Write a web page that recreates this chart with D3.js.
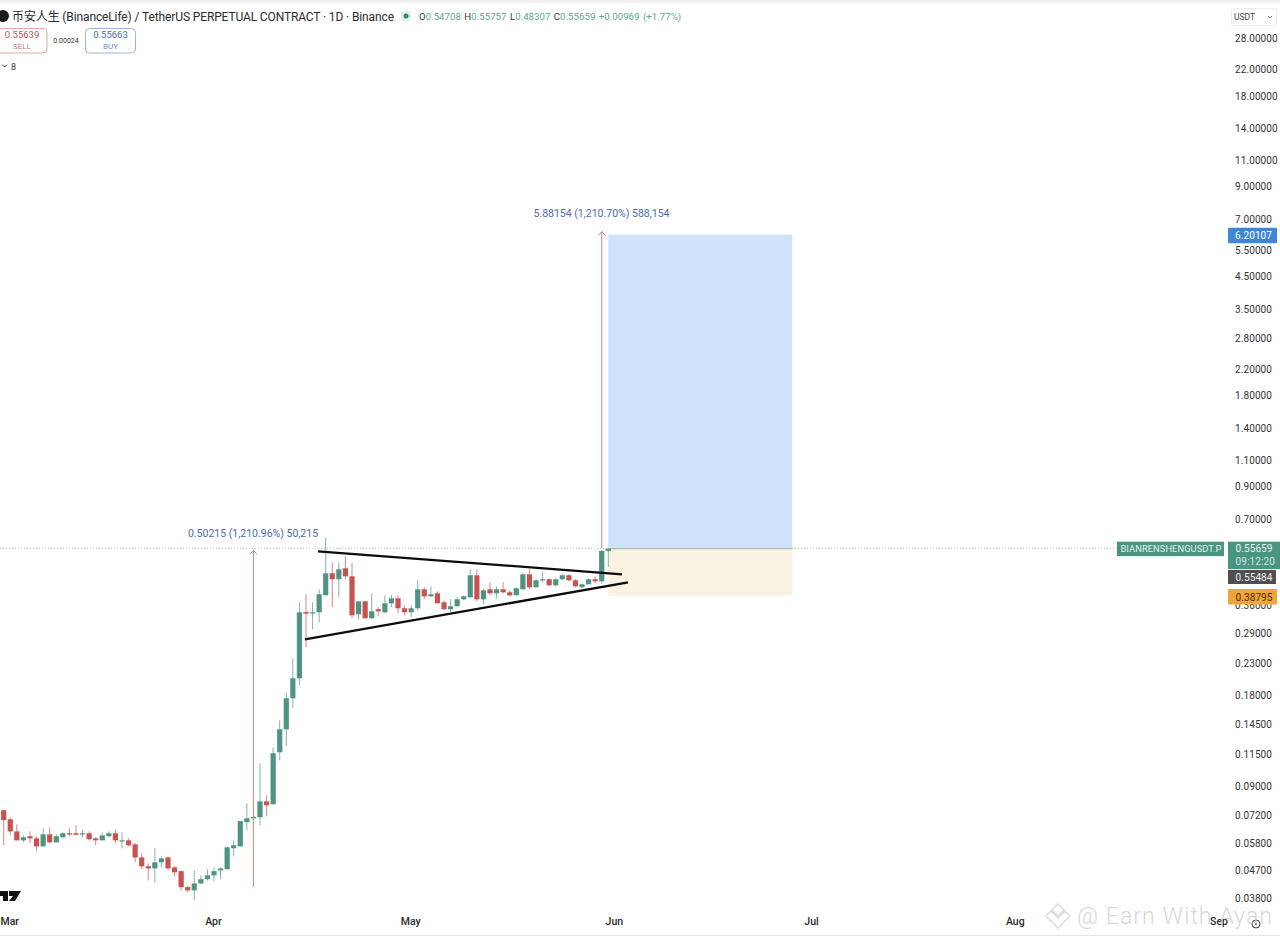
<!DOCTYPE html>
<html>
<head>
<meta charset="utf-8">
<script src="https://cdn.jsdelivr.net/npm/d3@7"></script>
<style>
  html, body { margin: 0; padding: 0; background: #fff; }
  svg { display: block; }
  text { font-family: Roboto, "Noto Sans CJK SC", sans-serif; }
  .axis path, .axis line { display: none; }
</style>
</head>
<body>
<div id="chart"></div>
<script>
// daily bars, first bar is 28 Feb, last is 31 May
var firstDay = "2025-02-28";
var opens = [.0747,.0697,.0635,.0593,.0612,.0602,.0566,.0621,.0584,.0607,.0626,.0626,.0621,.0626,.0602,.0593,.0612,.0626,.0591,.0593,.0575,.0520,.0486,.0478,.0501,.0520,.0482,.0468,.0414,.0404,.0426,.0440,.0453,.0471,.0475,.0558,.0566,.0682,.0702,.0708,.0800,.0782,.1166,.1391,.1765,.2057,.3423,.3389,.3415,.3891,.4607,.4400,.4787,.4502,.3363,.3715,.3261,.3495,.3415,.3659,.3802,.3522,.3415,.3522,.4074,.3861,.3951,.3687,.3495,.3576,.3773,.3831,.4537,.3773,.4074,.3951,.4074,.3981,.3891,.4074,.4571,.4137,.4366,.4400,.4201,.4400,.4537,.4366,.4137,.4233,.4400,.4333,.54708];
var highs = [.0750,.0708,.0671,.0616,.0635,.0612,.0650,.0655,.0621,.0630,.0650,.0666,.0641,.0635,.0607,.0630,.0635,.0645,.0630,.0602,.0580,.0536,.0497,.0558,.0524,.0524,.0486,.0468,.0417,.0471,.0453,.0475,.0482,.0482,.0566,.0593,.0687,.0788,.0735,.1071,.0838,.1212,.1490,.1847,.2399,.3687,.3921,.3687,.4074,.6073,.5012,.5012,.5249,.4974,.3715,.3715,.3951,.3549,.3891,.3891,.3891,.3603,.3603,.4366,.4137,.4169,.4012,.3744,.3773,.3831,.3891,.4750,.4750,.4106,.4299,.4169,.4299,.4043,.4137,.4607,.4750,.4400,.4641,.4434,.4434,.4571,.4571,.4400,.4250,.4434,.4502,.5500,.55757];
var lows = [.0571,.0616,.0593,.0584,.0580,.0545,.0566,.0580,.0584,.0602,.0612,.0616,.0607,.0593,.0571,.0593,.0607,.0580,.0558,.0566,.0501,.0475,.0436,.0430,.0482,.0471,.0450,.0404,.0398,.0374,.0423,.0436,.0433,.0440,.0475,.0524,.0566,.0641,.0692,.0666,.0713,.0782,.1096,.1221,.1634,.1950,.2610,.2997,.3162,.3891,.3549,.3831,.4400,.3261,.3236,.3261,.3261,.3311,.3389,.3549,.3389,.3337,.3286,.3468,.3773,.3831,.3659,.3468,.3415,.3576,.3744,.3831,.3715,.3631,.3891,.3802,.3951,.3861,.3891,.4074,.4074,.4137,.4299,.4169,.4169,.4366,.4333,.4137,.4120,.4233,.4266,.4250,.48307];
var closes = [.0692,.0635,.0593,.0607,.0602,.0566,.0621,.0584,.0612,.0626,.0621,.0619,.0626,.0598,.0593,.0616,.0626,.0593,.0593,.0571,.0520,.0486,.0478,.0501,.0516,.0478,.0464,.0414,.0404,.0426,.0440,.0453,.0468,.0478,.0562,.0571,.0687,.0702,.0710,.0800,.0776,.1157,.1391,.1765,.2057,.3415,.3382,.3415,.3921,.4607,.4400,.4750,.4502,.3337,.3715,.3261,.3441,.3441,.3659,.3802,.3522,.3415,.3522,.4074,.3861,.3921,.3659,.3495,.3576,.3773,.3861,.4537,.3773,.4043,.3951,.4074,.3981,.3891,.4106,.4571,.4137,.4366,.4400,.4201,.4400,.4537,.4366,.4169,.4233,.4400,.4333,.5471,.55659];

var priceTicks = [28, 22, 18, 14, 11, 9, 7, 5.5, 4.5, 3.5, 2.8, 2.2, 1.8, 1.4, 1.1, 0.9, 0.7, 0.36, 0.29, 0.23, 0.18, 0.145, 0.115, 0.09, 0.072, 0.058, 0.047, 0.038];
var monthTicks = ["2025-03-01", "2025-04-01", "2025-05-01", "2025-06-01", "2025-07-01", "2025-08-01", "2025-09-01"];

// drawn objects, [date, price] pairs
var upperTrend = [["2025-04-16T19:40Z", .5455], ["2025-06-02T02:00Z", .4571]];
var lowerTrend = [["2025-04-14T20:00Z", .2775], ["2025-06-03T00:00Z", .4299]];
var positionDates = ["2025-05-31", "2025-06-28"];
var entryPrice = 0.55659, targetPrice = 6.20107, stopPrice = 0.38795;
var projection = { date: "2025-05-30", from: 0.55659, to: 6.35 };
var pastMove = { date: "2025-04-07", from: 0.0414, to: 0.5497 };

var green = "#4f9483", red = "#c8524f", blueText = "#4a6cb0", arrowColor = "#c98585";

var width = 1280, height = 940;
var svg = d3.select("#chart").append("svg").attr("width", width).attr("height", height);

// Scales
var day = function (s) { return new Date(s.length == 10 ? s + "T00:00Z" : s); };
var x = d3.scaleUtc().domain([day(firstDay), day("2025-05-31")]).range([3.7, 608.3]);
var y = d3.scaleLog().domain([28, 0.038]).range([38.3, 898.3]);

var bars = closes.map(function (c, i) {
	return { date: d3.utcDay.offset(day(firstDay), i), o: opens[i], h: highs[i], l: lows[i], c: c };
});

// Position tool boxes
var boxX0 = x(day(positionDates[0])), boxX1 = x(day(positionDates[1]));
svg.append("rect").attr("x", boxX0).attr("y", y(targetPrice)).attr("width", boxX1 - boxX0)
	.attr("height", y(entryPrice) - y(targetPrice)).attr("fill", "#cee3f9");
svg.append("rect").attr("x", boxX0).attr("y", y(entryPrice)).attr("width", boxX1 - boxX0)
	.attr("height", y(stopPrice) - y(entryPrice)).attr("fill", "#f9f1e1");
svg.append("line").attr("x1", boxX0).attr("x2", boxX1).attr("y1", y(entryPrice)).attr("y2", y(entryPrice))
	.attr("stroke", "#a3a69c").attr("stroke-width", 1);

// Last price line
svg.append("line").attr("x1", 0).attr("x2", 1117).attr("y1", y(entryPrice)).attr("y2", y(entryPrice))
	.attr("stroke", "#a9c9c0").attr("stroke-width", 1).attr("stroke-dasharray", "1 2");

// Candles
var candles = svg.append("g").selectAll("g").data(bars).enter().append("g");
candles.append("line")
	.attr("x1", function (d) { return x(d.date); })
	.attr("x2", function (d) { return x(d.date); })
	.attr("y1", function (d) { return y(d.h); })
	.attr("y2", function (d) { return y(d.l); })
	.attr("stroke", function (d) { return d.c >= d.o ? green : red; })
	.attr("stroke-opacity", 0.7);
candles.append("rect")
	.attr("x", function (d) { return x(d.date) - 2.6; })
	.attr("width", 5.2)
	.attr("y", function (d) { return y(Math.max(d.o, d.c)); })
	.attr("height", function (d) { return Math.max(1.2, Math.abs(y(d.o) - y(d.c))); })
	.attr("fill", function (d) { return d.c >= d.o ? green : red; });

// Measure arrows
function drawArrow(m) {
	var ax = x(day(m.date)), top = y(m.to);
	svg.append("line").attr("x1", ax).attr("x2", ax).attr("y1", y(m.from)).attr("y2", top)
		.attr("stroke", arrowColor).attr("stroke-width", 1);
	svg.append("path").attr("d", d3.line()([[ax - 3.5, top + 4], [ax, top], [ax + 3.5, top + 4]]))
		.attr("fill", "none").attr("stroke", arrowColor).attr("stroke-width", 1);
}
drawArrow(pastMove);
drawArrow(projection);

svg.append("text").attr("x", 601.5).attr("y", 217).attr("text-anchor", "middle")
	.attr("font-size", 10.5).attr("fill", blueText).text("5.88154 (1,210.70%) 588,154");
svg.append("text").attr("x", 253).attr("y", 537).attr("text-anchor", "middle")
	.attr("font-size", 10.5).attr("fill", blueText).text("0.50215 (1,210.96%) 50,215");

// Trend lines
[upperTrend, lowerTrend].forEach(function (t) {
	svg.append("line")
		.attr("x1", x(day(t[0][0]))).attr("y1", y(t[0][1]))
		.attr("x2", x(day(t[1][0]))).attr("y2", y(t[1][1]))
		.attr("stroke", "#0c0c0c").attr("stroke-width", 2.3);
});

// Axes
var yAxis = d3.axisRight(y).tickValues(priceTicks).tickSize(0).tickPadding(0).tickFormat(d3.format(".5f"));
svg.append("g").attr("class", "axis").attr("transform", "translate(1235,0)").call(yAxis)
	.selectAll("text").attr("font-size", 10).attr("fill", "#333").attr("letter-spacing", "0.1px");

var xAxis = d3.axisBottom(x).tickValues(monthTicks.map(day)).tickSize(0).tickPadding(0).tickFormat(d3.utcFormat("%b"));
svg.append("g").attr("class", "axis").attr("transform", "translate(-1,918)").call(xAxis)
	.selectAll("text").attr("font-size", 10.5).attr("font-weight", 500).attr("fill", "#2a2a2a");

// Frame lines top and bottom
svg.append("rect").attr("x", 0).attr("y", 0).attr("width", width).attr("height", 3).attr("fill", "#eeeeee");
svg.append("rect").attr("x", 0).attr("y", 935).attr("width", width).attr("height", 1).attr("fill", "#e6e6e6");

// Price tags on the right
function tag(x0, y0, w, h, fill) {
	return svg.append("rect").attr("x", x0).attr("y", y0).attr("width", w).attr("height", h).attr("fill", fill);
}
function tagText(tx, ty, str, fill, size) {
	return svg.append("text").attr("x", tx).attr("y", ty).attr("font-size", size || 10).attr("fill", fill)
		.attr("letter-spacing", "0.1px").text(str);
}
tag(1117, y(entryPrice) - 7, 107, 14.5, "#4a9482");
tagText(1120.5, y(entryPrice) + 3.6, "BIANRENSHENGUSDT.P", "#e3f2ee", 9)
	.attr("textLength", 101).attr("lengthAdjust", "spacingAndGlyphs");
tag(1228, y(entryPrice) - 7, 52, 27.5, "#4a9482");
tagText(1235.5, y(entryPrice) + 3.8, "0.55659", "#eaf5f2");
tagText(1235.5, y(entryPrice) + 16, "09:12:20", "#cfe6df");
tag(1228, 570, 48, 14, "#4f4f4f");
tagText(1235.5, 580.8, "0.55484", "#f2f2f2");
tag(1228, 589, 49, 15.5, "#f0a537").attr("rx", 1);
tagText(1235.5, 600.6, "0.38795", "#4a2d08");
tag(1228, y(targetPrice) - 7, 49, 15.5, "#3f87d6").attr("rx", 1);
tagText(1235, y(targetPrice) + 4.8, "6.20107", "#ffffff");

// Currency box
svg.append("rect").attr("x", 1231.5).attr("y", 8.5).attr("width", 45).attr("height", 17).attr("rx", 2)
	.attr("fill", "#fff").attr("stroke", "#ececec");
svg.append("text").attr("x", 1234).attr("y", 20).attr("font-size", 8.5).attr("fill", "#444").text("USDT");
svg.append("path").attr("d", "M1268 16 L1270 18 L1272 16").attr("fill", "none").attr("stroke", "#777");

// Header
svg.append("circle").attr("cx", 3).attr("cy", 16).attr("r", 6).attr("fill", "#1c1c1c");
svg.append("text").attr("x", 12).attr("y", 21).attr("font-size", 12).attr("fill", "#2a2a2a")
	.attr("textLength", 382).attr("lengthAdjust", "spacing")
	.text("币安人生 (BinanceLife) / TetherUS PERPETUAL CONTRACT · 1D · Binance");
svg.append("circle").attr("cx", 406).attr("cy", 16).attr("r", 5.5).attr("fill", "#dcefe9");
svg.append("circle").attr("cx", 406).attr("cy", 16).attr("r", 2.5).attr("fill", "#2f8a73");

var ohlcText = svg.append("text").attr("x", 419).attr("y", 20).attr("font-size", 9.6).attr("fill", "#5aa893")
	.attr("word-spacing", "1px").attr("letter-spacing", "0.05px");
[["O", "0.54708 "], ["H", "0.55757 "], ["L", "0.48307 "], ["C", "0.55659 "]].forEach(function (p) {
	ohlcText.append("tspan").attr("fill", "#3a3a3a").text(p[0]);
	ohlcText.append("tspan").text(p[1]);
});
ohlcText.append("tspan").text("+0.00969 (+1.77%)");

// Buy and sell buttons
function tradeBox(x0, w, color, textColor, price, label) {
	svg.append("rect").attr("x", x0).attr("y", 28.5).attr("width", w).attr("height", 24.5).attr("rx", 4)
		.attr("fill", "#fff").attr("stroke", color);
	var cx = x0 + w / 2;
	svg.append("text").attr("x", cx).attr("y", 38).attr("text-anchor", "middle").attr("font-size", 9.5).attr("fill", textColor).text(price);
	svg.append("text").attr("x", cx).attr("y", 48.5).attr("text-anchor", "middle").attr("font-size", 8).attr("fill", textColor).attr("fill-opacity", 0.8).text(label);
}
tradeBox(-3, 50, "#e2a9a6", "#bf5a55", "0.55639", "SELL");
tradeBox(85.5, 50, "#9fb2dc", "#4a6cb0", "0.55663", "BUY");
svg.append("text").attr("x", 66).attr("y", 43).attr("text-anchor", "middle").attr("font-size", 7).attr("fill", "#333").text("0.00024");

svg.append("path").attr("d", "M2 64.5 L4.5 67 L7 64.5").attr("fill", "none").attr("stroke", "#444").attr("stroke-width", 1);
svg.append("text").attr("x", 11).attr("y", 69.5).attr("font-size", 9).attr("fill", "#333").text("8");

// TradingView mark, cut off at the left edge
svg.append("path").attr("d", "M0 891 H8 V901 H3 V896 H0 Z M9 891 H21 L15 901 H9 L13 896 H9 Z").attr("fill", "#111");

// Time axis clock icon
svg.append("circle").attr("cx", 1256).attr("cy", 924).attr("r", 4).attr("fill", "none").attr("stroke", "#444");
svg.append("circle").attr("cx", 1256).attr("cy", 924).attr("r", 1).attr("fill", "#444");

// Watermark
var wm = svg.append("g").attr("fill", "none").attr("stroke", "#dddddd").attr("stroke-width", 1.6);
wm.append("path").attr("d", "M1058 904 L1064 910 L1058 916 L1052 910 Z M1046 916 L1051 911 L1057 917 L1058 918 L1059 917 L1065 911 L1070 916 L1058 928 Z");
svg.append("text").attr("x", 1077).attr("y", 924).attr("font-size", 23).attr("font-family", "Lato, sans-serif").attr("font-weight", 300)
	.attr("fill", "#c4c4c4").attr("fill-opacity", 0.7).attr("textLength", 195).attr("lengthAdjust", "spacing").text("@ Earn With Ayan");
</script>
</body>
</html>
